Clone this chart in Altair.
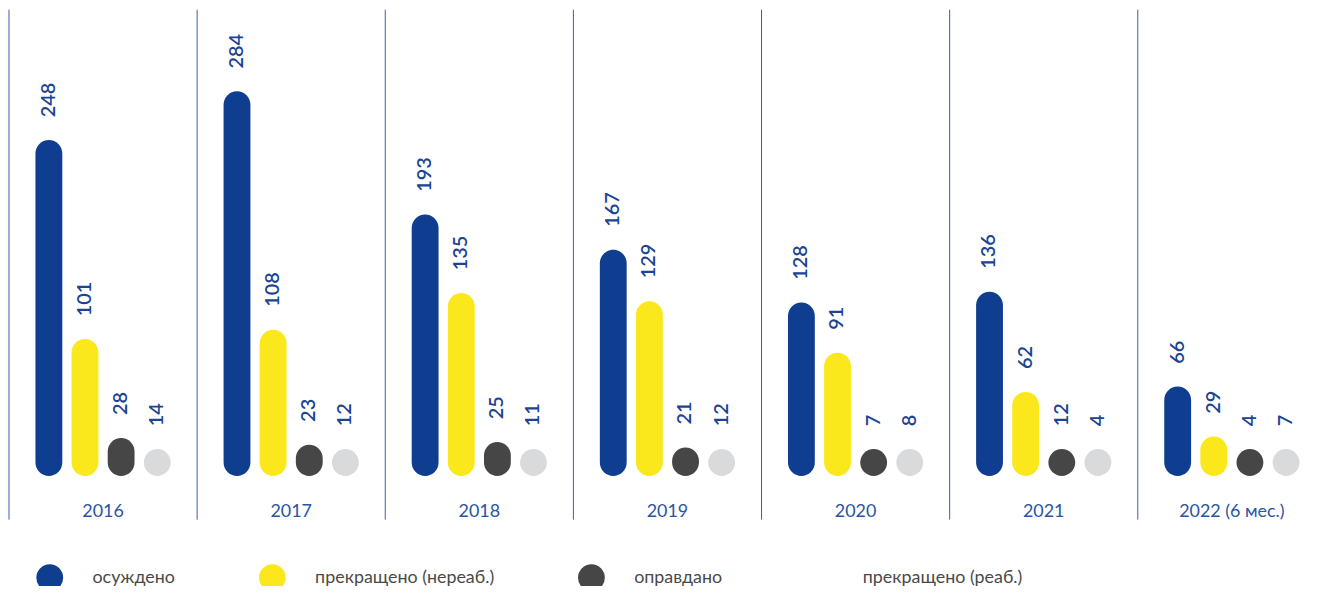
import altair as alt
import pandas as pd

years = ["2016", "2017", "2018", "2019", "2020", "2021", "2022 (6 мес.)"]
cats = ["осуждено", "прекращено (нереаб.)", "оправдано", "прекращено (реаб.)"]
convicted = [248, 284, 193, 167, 128, 136, 66]
terminated_nonrehab = [101, 108, 135, 129, 91, 62, 29]
acquitted = [28, 23, 25, 21, 7, 12, 4]
terminated_rehab = [14, 12, 11, 12, 8, 4, 7]

colors = ["#0f3d8f", "#fbe81c", "#464646", "#d9dadb"]

series = [convicted, terminated_nonrehab, acquitted, terminated_rehab]
rows = []
for c, vals in zip(cats, series):
    for y, v in zip(years, vals):
        rows.append({"year": y, "cat": c, "v": v})
df = pd.DataFrame(rows)
years_df = pd.DataFrame({"year": years})

FONT = "Lato"
PLOT_H = 513
x_scale = alt.Scale(domain=years, paddingInner=0, paddingOuter=0)
xo_scale = alt.Scale(domain=cats, paddingInner=0.257, paddingOuter=0.732)
y_scale = alt.Scale(domain=[-32.3, 344.2], range=[PLOT_H, 0], nice=False, zero=False)

legend_main = alt.Legend(
    title=None, orient="none", legendX=27.5, legendY=558,
    direction="horizontal", symbolType="circle", symbolSize=729,
    symbolStrokeWidth=0, labelFont=FONT, labelFontSize=18,
    labelColor="#4a4a4a", labelOffset=29.5, columnPadding=84,
    labelLimit=400, padding=0,
    symbolOpacity=alt.ExprRef("datum.value === '" + cats[3] + "' ? 0 : 1"),
)

base = alt.Chart(df).transform_calculate(disp="max(datum.v, 19.8)")

bars = base.mark_bar(cornerRadius=13.5).encode(
    x=alt.X("year:N", scale=x_scale, axis=None, sort=years),
    xOffset=alt.XOffset("cat:N", scale=xo_scale, sort=cats),
    y=alt.Y("disp:Q", scale=y_scale, axis=None),
    y2=alt.datum(0),
    color=alt.Color("cat:N", scale=alt.Scale(domain=cats, range=colors), legend=legend_main),
)

labels = base.mark_text(
    angle=270, align="left", baseline="middle", dx=23,
    font=FONT, fontSize=20, fontWeight=600, color="#1b4593",
).encode(
    x=alt.X("year:N", scale=x_scale, axis=None, sort=years),
    xOffset=alt.XOffset("cat:N", scale=xo_scale, sort=cats),
    y=alt.Y("disp:Q", scale=y_scale, axis=None),
    text=alt.Text("v:Q"),
)

rules = alt.Chart(years_df).mark_rule(color="#3560ab", strokeWidth=1).encode(
    x=alt.X("year:N", scale=x_scale, axis=None, sort=years, bandPosition=0),
    y=alt.value(0),
    y2=alt.value(PLOT_H),
)

year_labels = alt.Chart(years_df).mark_text(
    font=FONT, fontSize=18, color="#2a55a3", baseline="middle", align="center",
).encode(
    x=alt.X("year:N", scale=x_scale, axis=None, sort=years),
    y=alt.value(505),
    text="year:N",
)

chart = alt.layer(rules, bars, labels, year_labels).properties(
    width=1325, height=578,
    autosize=alt.AutoSizeParams(type="none"),
    padding={"left": 1, "top": 0, "right": -12, "bottom": 0},
    background="white",
).configure_view(stroke=None)

chart.save("out.html", embed_options={"renderer": "svg", "actions": False})
